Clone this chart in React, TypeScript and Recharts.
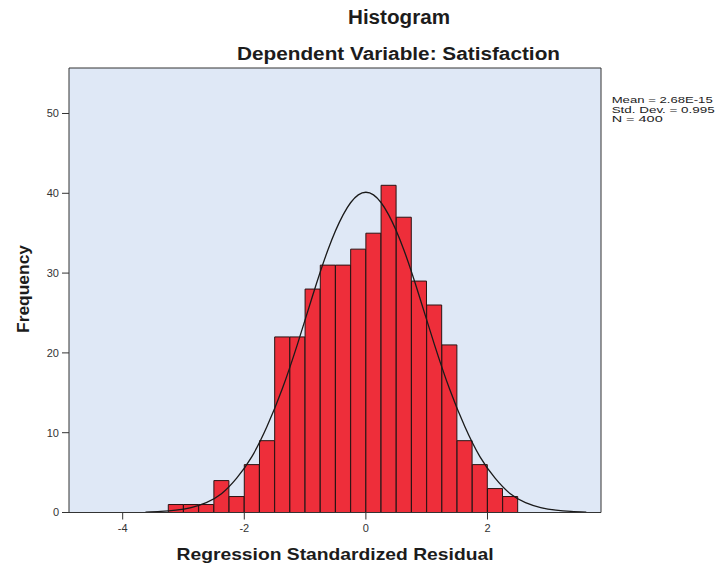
import { ComposedChart, Bar, Line, XAxis, YAxis, CartesianGrid, ReferenceLine } from "recharts";

// bin midpoints, 0.25 wide bins of the standardized residual
const binMids = [
  -3.625, -3.375, -3.125, -2.875, -2.625, -2.375, -2.125, -1.875, -1.625, -1.375,
  -1.125, -0.875, -0.625, -0.375, -0.125, 0.125, 0.375, 0.625, 0.875, 1.125,
  1.375, 1.625, 1.875, 2.125, 2.375, 2.625, 2.875, 3.125, 3.375, 3.625,
];
const frequency = [
  null, null, 1, 1, 1, 4, 2, 6, 9, 22,
  22, 28, 31, 31, 33, 35, 41, 37, 29, 26,
  21, 9, 6, 3, 2, null, null, null, null, null,
];
// normal curve
const normalCurve = [
  0.05, 0.13, 0.29, 0.62, 1.24, 2.35, 4.3, 7.0, 10.8, 15.5,
  21.1, 27.2, 32.9, 37.3, 39.8, 39.8, 37.3, 32.9, 27.2, 21.1,
  15.5, 10.8, 7.0, 4.3, 2.35, 1.24, 0.62, 0.29, 0.13, 0.05,
];
const xTicks = [-4, -2, 0, 2];
const yTicks = [0, 10, 20, 30, 40, 50];
const stats = ["Mean = 2.68E-15", "Std. Dev. = 0.995", "N = 400"];

const rows = binMids.map((x, i) => ({ x, freq: frequency[i], curve: normalCurve[i] }));

const font = "'Liberation Sans', Arial, sans-serif";
const ink = "#1c1c1c";

export default function App() {
  return (
    <div style={{ position: "absolute", left: 0, top: 0, width: 721, height: 569, background: "#fff", fontFamily: font }}>
      <ComposedChart
        width={721}
        height={569}
        data={rows}
        margin={{ top: 68, right: 120, bottom: 26.5, left: 39 }}
        barCategoryGap={0}
        barGap={0}
      >
        <CartesianGrid horizontal={false} vertical={false} fill="#DFE8F6" />
        <XAxis
          dataKey="x"
          type="number"
          domain={[-4.883, 3.867]}
          ticks={xTicks}
          allowDataOverflow
          height={30}
          tickSize={7}
          tickMargin={5}
          stroke="#333"
          tick={{ fontSize: 11, fill: "#333", fontFamily: font }}
        />
        <YAxis
          type="number"
          domain={[0, 55.7]}
          ticks={yTicks}
          allowDataOverflow
          width={30}
          tickSize={7}
          tickMargin={3}
          stroke="#333"
          tick={{ fontSize: 11, fill: "#333", fontFamily: font }}
        />
        <Bar dataKey="freq" fill="#EE2E3A" stroke="#2a1414" strokeWidth={1} isAnimationActive={false} />
        <Line dataKey="curve" type="natural" stroke="#1a1a1a" strokeWidth={1.3} dot={false} activeDot={false} isAnimationActive={false} />
        <ReferenceLine y={55.7} stroke="#333" ifOverflow="extendDomain" />
        <ReferenceLine x={3.867} stroke="#333" ifOverflow="extendDomain" />
      </ComposedChart>
      <svg width={721} height={569} style={{ position: "absolute", left: 0, top: 0, pointerEvents: "none" }}>
        <g fontFamily={font} fontWeight="bold" fill={ink}>
          <text x={399} y={24} textAnchor="middle" fontSize={19.5} textLength={102} lengthAdjust="spacingAndGlyphs">Histogram</text>
          <text x={398.5} y={59.5} textAnchor="middle" fontSize={18} textLength={323} lengthAdjust="spacingAndGlyphs">Dependent Variable: Satisfaction</text>
          <text x={335} y={560} textAnchor="middle" fontSize={16.5} textLength={317} lengthAdjust="spacingAndGlyphs">Regression Standardized Residual</text>
          <text x={29} y={289} transform="rotate(-90 29 289)" textAnchor="middle" fontSize={17} textLength={88} lengthAdjust="spacingAndGlyphs">Frequency</text>
        </g>
        <g fontFamily={font} fontSize={8.5} fill="#222">
          <text x={611.7} y={103} textLength={101} lengthAdjust="spacingAndGlyphs">{stats[0]}</text>
          <text x={611.7} y={112.5} textLength={103} lengthAdjust="spacingAndGlyphs">{stats[1]}</text>
          <text x={611.7} y={122} textLength={51} lengthAdjust="spacingAndGlyphs">{stats[2]}</text>
        </g>
      </svg>
    </div>
  );
}
